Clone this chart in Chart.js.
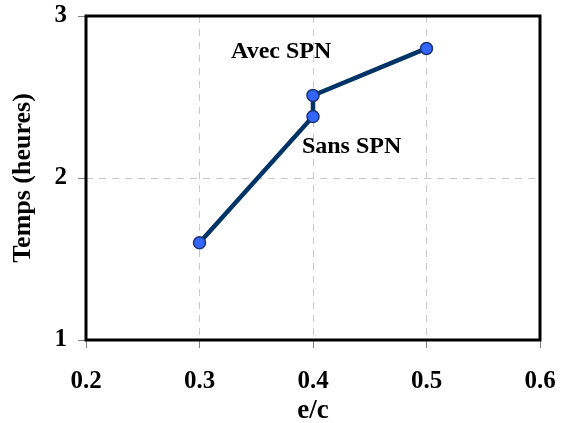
<!DOCTYPE html>
<html>
<head>
<meta charset="utf-8">
<script src="https://cdn.jsdelivr.net/npm/chart.js@4"></script>
<style>
html,body{margin:0;padding:0;background:#fff;}
#wrap{width:563px;height:423px;}
</style>
</head>
<body>
<div id="wrap"><canvas id="c" width="563" height="423"></canvas></div>
<script>
// Data
const xValues = [0.3, 0.4, 0.4, 0.5];
const yValues = [1.6, 2.38, 2.51, 2.8];
const xTicks = [0.2, 0.3, 0.4, 0.5, 0.6];
const yTicks = [1, 2, 3];
const labelTexts = ["Avec SPN", "Sans SPN"];
const labelX = [0.372, 0.434];
const labelY = [2.78, 2.19];

const FONT = "'Liberation Serif', 'Times New Roman', serif";

const boxPlugin = {
  id: 'box',
  afterDatasetsDraw(chart) {
    const ctx = chart.ctx, a = chart.chartArea;
    ctx.save();
    ctx.strokeStyle = '#000';
    ctx.lineWidth = 3;
    ctx.strokeRect(a.left, a.top, a.right - a.left, a.bottom - a.top);
    ctx.fillStyle = '#000';
    ctx.font = 'bold 24px ' + FONT;
    ctx.textAlign = 'center';
    ctx.textBaseline = 'middle';
    const xs = chart.scales.x, ys = chart.scales.y;
    labelTexts.forEach((t, i) => {
      ctx.fillText(t, xs.getPixelForValue(labelX[i]), ys.getPixelForValue(labelY[i]));
    });
    ctx.restore();
  }
};

function zeroPad(s) { s.paddingLeft = 0; s.paddingRight = 0; s.paddingTop = 0; s.paddingBottom = 0; }

new Chart(document.getElementById('c'), {
  type: 'scatter',
  data: {
    datasets: [{
      data: xValues.map((x, i) => ({x: x, y: yValues[i]})),
      showLine: true,
      borderColor: '#003366',
      borderWidth: 4.5,
      pointRadius: 6,
      pointHoverRadius: 6,
      pointBackgroundColor: '#3366ff',
      pointBorderColor: '#1a3370',
      pointBorderWidth: 1.5,
      tension: 0
    }]
  },
  options: {
    responsive: false,
    animation: false,
    events: [],
    layout: { padding: { top: 16, right: 23, left: 0, bottom: 0 } },
    plugins: { legend: { display: false }, tooltip: { enabled: false } },
    scales: {
      x: {
        type: 'linear',
        min: xTicks[0], max: xTicks[xTicks.length - 1],
        afterBuildTicks(s) { s.ticks = xTicks.map(v => ({value: v})); },
        afterFit(s) { s.height = 83; zeroPad(s); },
        ticks: {
          color: '#000',
          font: { family: FONT, size: 25, weight: 'bold' },
          padding: 19,
          maxRotation: 0,
          callback: v => v.toFixed(1)
        },
        grid: { color: '#c8c8c8', lineWidth: 1, tickLength: 8, tickColor: '#808080', tickBorderDash: [] },
        border: { display: false, dash: [7, 6] },
        title: { display: true, text: 'e/c', color: '#000', font: { family: FONT, size: 27, weight: 'bold' }, padding: { top: 0, bottom: -4 } }
      },
      y: {
        type: 'linear',
        min: yTicks[0], max: yTicks[yTicks.length - 1],
        afterBuildTicks(s) { s.ticks = yTicks.map(v => ({value: v})); },
        afterFit(s) { s.width = 86; zeroPad(s); },
        ticks: {
          color: '#000',
          font: { family: FONT, size: 25, weight: 'bold' },
          padding: 11,
          callback: v => String(v)
        },
        grid: { color: '#c8c8c8', lineWidth: 1, tickLength: 8, tickColor: '#808080', tickBorderDash: [] },
        border: { display: false, dash: [7, 6] },
        title: { display: true, text: 'Temps (heures)', color: '#000', font: { family: FONT, size: 26, weight: 'bold' }, padding: { top: 8, bottom: 0 } }
      }
    }
  },
  plugins: [boxPlugin]
});
</script>
</body>
</html>
